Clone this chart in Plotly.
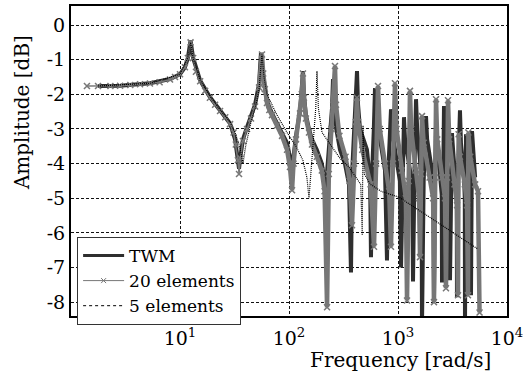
import plotly.graph_objects as go

# ---------------- data ----------------
twm_freq = [1.77, 2.82, 5.3, 8.1, 10, 11.1, 11.8, 12.5, 13.2, 15.3, 18.8, 23.3, 28.8, 32.0, 34.0, 34.8,
            35.8, 37.8, 41.2, 44.8, 48.8, 53.1, 55.3, 57, 59, 62.8, 69.8, 77.6, 86.3, 95.9, 102, 106.6,
            110, 115.9, 126.1, 131, 134.3, 137, 143, 152.5, 162.5, 180, 200, 212, 218.5, 224, 237.8, 248,
            253.3, 258, 264, 293.6, 326, 355, 370.4, 380, 400, 412, 420.7, 430, 448, 519, 555, 565.2,
            580, 600, 615.2, 630, 690, 760, 792.5, 820, 862.5, 880, 960, 1040, 1066, 1100, 1135, 1160,
            1290, 1350, 1373, 1420, 1463, 1500, 1600, 1645, 1660, 1720, 1807, 1850, 2050, 2120, 2138,
            2190, 2233, 2290, 2450, 2520, 2534, 2590, 2642, 2700, 2900, 2980, 2999, 3060, 3126, 3200,
            3400, 3460, 3475, 3580, 3703, 3780, 4020, 4100, 4117, 4160, 4207, 4350, 4600, 4674, 4720,
            4775, 4900, 5100]
twm_db = [-1.76, -1.75, -1.68, -1.56, -1.42, -1.22, -0.95, -0.45, -0.95, -1.6, -2.08, -2.46, -2.84, -3.3, -3.8, -4.15,
          -3.8, -3.3, -2.95, -2.65, -2.3, -1.7, -0.8, -1.3, -1.7, -2.2, -2.55, -2.85, -3.1, -3.4, -3.8, -4.5,
          -3.8, -3.2, -2.5, -1.9, -1.33, -2.0, -2.6, -3.0, -3.3, -3.6, -4.0, -4.5, -5.58, -4.2, -3.2, -2.4,
          -1.56, -2.2, -2.8, -3.6, -4.0, -4.6, -7.14, -4.2, -3.0, -2.3, -1.33, -2.3, -3.0, -3.6, -4.5, -6.7,
          -4.2, -3.0, -1.82, -2.6, -3.4, -4.2, -6.8, -4.0, -2.43, -3.0, -3.8, -4.5, -7.0, -4.2, -2.66, -3.3,
          -4.2, -4.8, -7.4, -4.0, -2.14, -3.0, -4.0, -4.8, -8.7, -4.5, -2.63, -3.3, -4.2, -4.8, -7.95,
          -4.3, -2.86, -3.4, -4.3, -4.9, -7.43, -4.0, -2.34, -3.3, -4.4, -5.0, -7.37, -4.5, -3.12, -3.6,
          -4.5, -5.0, -7.86, -4.0, -2.46, -3.4, -4.3, -5.0, -8.7, -4.5, -3.15, -3.8, -4.6, -7.8, -4.5,
          -3.06, -3.6, -4.4]

el20_freq = [1.40, 1.77, 2.3, 2.82, 3.5, 4.3, 5.3, 6.5, 8.1, 9.0, 10, 11.1, 11.8, 12.5, 13.2, 14, 15.3, 17,
             18.8, 21, 23.3, 26, 28.8, 31, 32.5, 34, 34.8, 35.8, 37.8, 41.2, 44.8, 48.8, 53.1, 56.5, 58, 60,
             62.8, 66, 69.8, 77.6, 86.3, 95.9, 102, 106.6, 110, 115.9, 126.1, 131, 134.3, 137, 143, 152.5,
             162.5, 180, 200, 212, 223.4, 232, 245, 255, 264.2, 270, 290, 330, 360, 378.4, 395, 410, 420,
             430, 470, 560, 602.5, 630, 655.5, 680, 760, 830, 862.5, 900, 937.9, 970, 1080, 1180, 1210,
             1250, 1288, 1320, 1450, 1560, 1592, 1625, 1660, 1720, 1950, 2100, 2138, 2190, 2233, 2290,
             2550, 2700, 2754, 2820, 2877, 2950, 3300, 3480, 3550, 3600, 3700, 4100, 4300, 4385, 4420,
             4600, 5100, 5420, 5600]
el20_db = [-1.76, -1.76, -1.76, -1.75, -1.73, -1.71, -1.69, -1.65, -1.57, -1.5, -1.42, -1.22, -0.95, -0.5, -0.95, -1.35, -1.62, -1.9,
           -2.1, -2.3, -2.48, -2.66, -2.86, -3.1, -3.45, -3.9, -4.3, -3.85, -3.35, -3.0, -2.7, -2.35, -1.8, -0.85, -1.4, -1.85,
           -2.25, -2.45, -2.6, -2.9, -3.2, -3.6, -4.1, -4.77, -4.0, -3.3, -2.55, -2.0, -1.4, -2.1, -2.7, -3.1,
           -3.45, -3.8, -4.2, -4.8, -8.15, -4.3, -3.0, -2.3, -1.18, -2.3, -3.2, -3.8, -4.5, -5.78, -4.0, -2.8, -2.1,
           -2.8, -3.6, -4.6, -6.4, -4.0, -1.76, -3.0, -4.0, -4.8, -6.4, -4.0, -1.68, -3.0, -4.2, -5.0, -7.95,
           -4.5, -1.9, -3.0, -4.2, -5.0, -6.7, -4.3, -2.63, -3.4, -4.4, -5.0, -8.0, -4.4, -2.14, -3.3,
           -4.4, -5.0, -7.6, -4.4, -2.17, -3.3, -4.6, -5.2, -7.8, -3.15, -3.8, -4.6, -5.2, -7.8, -3.1,
           -3.8, -4.6, -4.8, -8.3]

el5_freq = [1.77, 5.3, 10, 11.8, 12.5, 13.2, 15.3, 18.8, 23.3, 28.8, 32, 35.5, 37.8, 40, 44.8, 48.8, 53.1,
            56.5, 59, 62.8, 69.8, 77.6, 95.9, 115.9, 134, 146, 152.5, 158, 168, 176, 180.6, 186, 200.8,
            246, 293.6, 355, 412, 455, 470, 477.5, 490, 560, 700, 1021, 2000, 3000, 5420]
el5_db = [-1.76, -1.68, -1.42, -0.95, -0.5, -0.95, -1.6, -2.05, -2.45, -2.8, -3.1, -3.55, -4.0, -3.5, -2.8, -2.4, -1.85,
          -0.85, -1.5, -2.0, -2.3, -2.6, -3.1, -3.5, -3.9, -4.4, -5.0, -4.3, -3.2, -2.4, -1.33, -2.4, -3.1,
          -3.5, -3.85, -4.1, -4.4, -4.6, -6.07, -2.9, -4.3, -4.6, -4.8, -4.97, -5.57, -5.94, -6.47]

x_tick_vals = [10, 100, 1000, 10000]
x_tick_text = ["10<sup>1</sup>", "10<sup>2</sup>", "10<sup>3</sup>", "10<sup>4</sup>"]
y_tick_vals = [0, -1, -2, -3, -4, -5, -6, -7, -8]
y_tick_text = ["0", "-1", "-2", "-3", "-4", "-5", "-6", "-7", "-8"]

TWM_C = "#2e2e2e"
GRAY_C = "#777777"

# the 20-element curve is sampled densely at high frequency, so its markers merge into a band there
band_idx = [i for i, f in enumerate(el20_freq) if f >= 50]
band_freq = [el20_freq[i] for i in band_idx]
band_db = [el20_db[i] for i in band_idx]

fig = go.Figure()
fig.add_trace(go.Scatter(x=twm_freq, y=twm_db, mode="lines", showlegend=False,
                         line=dict(color=TWM_C, width=4)))
fig.add_trace(go.Scatter(x=band_freq, y=band_db, mode="lines", showlegend=False,
                         line=dict(color=GRAY_C, width=4.5)))
fig.add_trace(go.Scatter(x=el20_freq, y=el20_db, mode="lines+markers", showlegend=False,
                         line=dict(color=GRAY_C, width=1.5),
                         marker=dict(symbol="x-thin", size=6, line=dict(color=GRAY_C, width=1.5))))
fig.add_trace(go.Scatter(x=el5_freq, y=el5_db, mode="lines", showlegend=False,
                         line=dict(color="black", width=1.2, dash="1px,1px")))

# legend entries
fig.add_trace(go.Scatter(x=[None], y=[None], mode="lines", name="TWM",
                         line=dict(color=TWM_C, width=3)))
fig.add_trace(go.Scatter(x=[None], y=[None], mode="lines+markers", name="20 elements",
                         line=dict(color=GRAY_C, width=1),
                         marker=dict(symbol="x-thin", size=5, line=dict(color=GRAY_C, width=1))))
fig.add_trace(go.Scatter(x=[None], y=[None], mode="lines", name="5 elements",
                         line=dict(color="black", width=1, dash="dot")))

axis_common = dict(showgrid=True, gridcolor="#111111", griddash="3px,2px", gridwidth=1,
                   showline=True, linecolor="black", linewidth=2, mirror=True, automargin=False,
                   ticks="", zeroline=False, tickfont=dict(size=19), ticklabeloverflow="allow")

fig.update_xaxes(type="log", range=[0, 4], tickvals=x_tick_vals, ticktext=x_tick_text,
                 ticklabelstandoff=4, **axis_common)
fig.update_yaxes(range=[-8.4, 0.55], tickvals=y_tick_vals, ticktext=y_tick_text, **axis_common)

fig.update_layout(
    width=523, height=379,
    margin=dict(l=71, r=16, t=6, b=63, autoexpand=False),
    plot_bgcolor="white", paper_bgcolor="white",
    font=dict(family="DejaVu Serif", size=18, color="black"),
    legend=dict(x=0.014, y=0.255, xanchor="left", yanchor="top", bgcolor="white",
                bordercolor="#333333", borderwidth=1, font=dict(size=17),
                tracegroupgap=0, itemwidth=41),
    annotations=[
        dict(text="Frequency [rad/s]", xref="paper", yref="paper", x=0.755, y=-0.142,
             xanchor="center", yanchor="middle", showarrow=False, font=dict(size=20)),
        dict(text="Amplitude [dB]", xref="paper", yref="paper", x=-0.112, y=0.655,
             xanchor="center", yanchor="middle", showarrow=False, textangle=-90, font=dict(size=20)),
    ],
)

fig.write_html("out.html", config={"displayModeBar": False},
               post_script="document.body.style.margin='0px';document.body.style.overflow='hidden';")
